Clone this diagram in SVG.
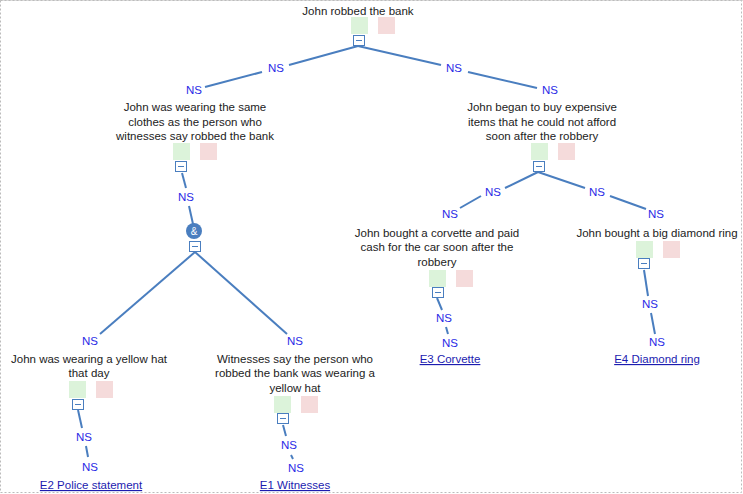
<svg xmlns="http://www.w3.org/2000/svg" width="743" height="494" viewBox="0 0 743 494">
<style>
.t{font-family:"Liberation Sans",Arial,sans-serif;font-size:11.5px;fill:#222;text-anchor:middle}
.ns{font-family:"Liberation Sans",Arial,sans-serif;font-size:11.5px;fill:#2a2ae6;text-anchor:middle}
.lk{font-family:"Liberation Sans",Arial,sans-serif;font-size:11.5px;fill:#1c1cb0;text-anchor:middle;text-decoration:underline}
.g{fill:#dcf3da}
.r{fill:#f5dbdb}
.m{fill:#fff;stroke:#4a7ebf;stroke-width:1}
.mi{stroke:#4a7ebf;stroke-width:1}
.c line{stroke:#4a7ebf;stroke-width:2}
</style>
<rect x="0" y="0" width="743" height="494" fill="#fff"/>
<line x1="0" y1="0.5" x2="743" y2="0.5" stroke="#ddd"/>
<rect x="0.5" y="0.5" width="741" height="492" fill="none" stroke="#bbb" stroke-dasharray="2,2"/>
<defs>
<g id="mb"><rect class="m" x="0.5" y="0.5" width="11" height="10"/><line class="mi" x1="3" y1="5.5" x2="9" y2="5.5"/></g>
</defs>
<g id="connectors" class="c">
<line x1="358" y1="46" x2="289" y2="65"/>
<line x1="262" y1="72" x2="205" y2="87"/>
<line x1="358" y1="46" x2="441" y2="65"/>
<line x1="468" y1="72" x2="537" y2="88"/>
<line x1="182" y1="173" x2="186" y2="188"/>
<line x1="189" y1="206" x2="193" y2="224"/>
<line x1="195" y1="252" x2="100" y2="334"/>
<line x1="195" y1="252" x2="287" y2="334"/>
<line x1="78" y1="410" x2="82" y2="428"/>
<line x1="86" y1="446" x2="88" y2="457"/>
<line x1="283" y1="425" x2="286" y2="436"/>
<line x1="291" y1="455" x2="293" y2="459"/>
<line x1="538" y1="172" x2="505" y2="188"/>
<line x1="538" y1="172" x2="585" y2="188"/>
<line x1="481" y1="196" x2="460" y2="208"/>
<line x1="610" y1="196" x2="646" y2="209"/>
<line x1="437" y1="298" x2="442" y2="310"/>
<line x1="446" y1="327" x2="448" y2="334"/>
<line x1="644" y1="270" x2="648" y2="296"/>
<line x1="651" y1="313" x2="655" y2="334"/>
</g>
<g id="labels">
<text class="ns" x="276" y="72">NS</text>
<text class="ns" x="194" y="94">NS</text>
<text class="ns" x="454" y="72">NS</text>
<text class="ns" x="550" y="94">NS</text>
<text class="ns" x="186" y="201">NS</text>
<text class="ns" x="90" y="345">NS</text>
<text class="ns" x="295" y="345">NS</text>
<text class="ns" x="84" y="441">NS</text>
<text class="ns" x="90" y="471">NS</text>
<text class="ns" x="289" y="449">NS</text>
<text class="ns" x="296" y="472">NS</text>
<text class="ns" x="493" y="196">NS</text>
<text class="ns" x="597" y="196">NS</text>
<text class="ns" x="450" y="218">NS</text>
<text class="ns" x="656" y="218">NS</text>
<text class="ns" x="444" y="322">NS</text>
<text class="ns" x="450" y="347">NS</text>
<text class="ns" x="650" y="308">NS</text>
<text class="ns" x="657" y="346">NS</text>
</g>
<g id="root">
<text class="t" x="358" y="15">John robbed the bank</text>
<rect class="g" x="351" y="17" width="17" height="17"/>
<rect class="r" x="378" y="17" width="17" height="17"/>
<use href="#mb" x="353" y="35"/>
</g>
<g id="n1">
<text class="t" x="195" y="111">John was wearing the same</text>
<text class="t" x="195" y="126">clothes as the person who</text>
<text class="t" x="195" y="140">witnesses say robbed the bank</text>
<rect class="g" x="173" y="143" width="17" height="17"/>
<rect class="r" x="200" y="143" width="17" height="17"/>
<use href="#mb" x="175" y="161"/>
</g>
<g id="and">
<circle cx="194" cy="231" r="8" fill="#4a7ebf"/>
<text x="194" y="235" font-family="Liberation Sans,Arial,sans-serif" font-size="10" fill="#fff" text-anchor="middle">&amp;</text>
<use href="#mb" x="189" y="241"/>
</g>
<g id="n2">
<text class="t" x="89" y="363">John was wearing a yellow hat</text>
<text class="t" x="89" y="377">that day</text>
<rect class="g" x="69" y="381" width="17" height="17"/>
<rect class="r" x="96" y="381" width="17" height="17"/>
<use href="#mb" x="72" y="399"/>
<text class="lk" x="91" y="489">E2 Police statement</text>
</g>
<g id="n3">
<text class="t" x="295" y="363">Witnesses say the person who</text>
<text class="t" x="295" y="377">robbed the bank was wearing a</text>
<text class="t" x="295" y="392">yellow hat</text>
<rect class="g" x="274" y="396" width="17" height="17"/>
<rect class="r" x="301" y="396" width="17" height="17"/>
<use href="#mb" x="277" y="413"/>
<text class="lk" x="295" y="489">E1 Witnesses</text>
</g>
<g id="n4">
<text class="t" x="542" y="111">John began to buy expensive</text>
<text class="t" x="542" y="126">items that he could not afford</text>
<text class="t" x="542" y="140">soon after the robbery</text>
<rect class="g" x="531" y="143" width="17" height="17"/>
<rect class="r" x="558" y="143" width="17" height="17"/>
<use href="#mb" x="533" y="161"/>
</g>
<g id="n5">
<text class="t" x="437" y="237">John bought a corvette and paid</text>
<text class="t" x="437" y="251">cash for the car soon after the</text>
<text class="t" x="437" y="266">robbery</text>
<rect class="g" x="429" y="270" width="17" height="17"/>
<rect class="r" x="456" y="270" width="17" height="17"/>
<use href="#mb" x="432" y="287"/>
<text class="lk" x="450" y="363">E3 Corvette</text>
</g>
<g id="n6">
<text class="t" x="657" y="237">John bought a big diamond ring</text>
<rect class="g" x="636" y="241" width="17" height="17"/>
<rect class="r" x="663" y="241" width="17" height="17"/>
<use href="#mb" x="638" y="258"/>
<text class="lk" x="657" y="363">E4 Diamond ring</text>
</g>
</svg>
